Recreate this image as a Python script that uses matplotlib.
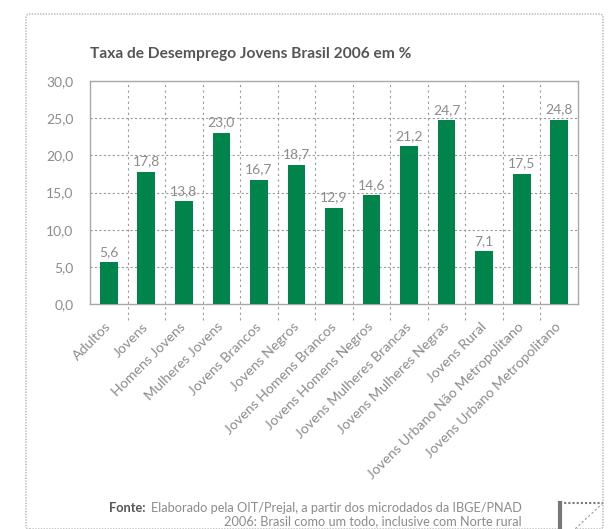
import matplotlib.pyplot as plt
from matplotlib.patches import FancyBboxPatch, Polygon
from matplotlib.lines import Line2D

categorias = ["Adultos", "Jovens", "Homens Jovens", "Mulheres Jovens", "Jovens Brancos",
              "Jovens Negros", "Jovens Homens Brancos", "Jovens Homens Negros",
              "Jovens Mulheres Brancas", "Jovens Mulheres Negras", "Jovens Rural",
              "Jovens Urbano Não Metropolitano", "Jovens Urbano Metropolitano"]
taxas = [5.6, 17.8, 13.8, 23.0, 16.7, 18.7, 12.9, 14.6, 21.2, 24.7, 7.1, 17.5, 24.8]
y_ticks = [0, 5, 10, 15, 20, 25, 30]

VERDE = "#00844b"
CINZA_TXT = "#8c8c8c"
CINZA_ESC = "#555555"
FONTE = ["Lato", "DejaVu Sans"]

plt.rcParams["font.family"] = FONTE

W, H = 614, 529
fig = plt.figure(figsize=(W / 100, H / 100), dpi=100)

# moldura pontilhada em volta
frame = FancyBboxPatch((26 / W, 0.0), (603 - 26) / W, (H - 14) / H,
                       boxstyle="round,pad=0,rounding_size=0.006",
                       transform=fig.transFigure, fill=False,
                       edgecolor="#b0b0b0", linestyle=(0, (1, 1)), linewidth=1.0)
fig.patches.append(frame)

# canto dobrado
curl = Polygon([(560 / W, (H - 503) / H), (603 / W, (H - 503) / H), (575 / W, 0.0), (560 / W, 0.0)],
               closed=True, transform=fig.transFigure, facecolor="white", edgecolor="none", zorder=5)
fig.patches.append(curl)
fig.lines.append(Line2D([560 / W, 603 / W], [(H - 503) / H] * 2, transform=fig.transFigure,
                        color="#777777", linestyle=(0, (1, 1)), linewidth=1.5, zorder=6))
fig.lines.append(Line2D([560 / W] * 2, [0, (H - 503) / H], transform=fig.transFigure,
                        color="#777777", linewidth=3, zorder=6))
fig.lines.append(Line2D([603 / W, 575 / W], [(H - 503) / H, 0], transform=fig.transFigure,
                        color="#999999", linestyle=(0, (2, 2)), linewidth=0.8, zorder=6))

ax = fig.add_axes([90 / W, (H - 304) / H, (578 - 90) / W, (304 - 81) / H])

x = list(range(len(categorias)))
ax.bar(x, taxas, width=0.47, color=VERDE, zorder=3)

for xi, v in zip(x, taxas):
    ax.text(xi, v + 0.6, f"{v:.1f}".replace(".", ","), ha="center", va="bottom",
            fontsize=10, color=CINZA_TXT, zorder=4)

ax.set_xlim(-0.5, len(categorias) - 0.5)
ax.set_ylim(0, 30)
ax.set_yticks(y_ticks)
ax.set_yticklabels([f"{t:.1f}".replace(".", ",") for t in y_ticks], fontsize=10, color=CINZA_TXT)
ax.tick_params(axis="y", length=0, pad=12)

# linhas de grade horizontais
for t in y_ticks[1:-1]:
    ax.axhline(t, color="#999999", linestyle=(0, (2, 2)), linewidth=0.8, zorder=1)

# linhas verticais entre categorias, passando abaixo do eixo
for b in range(1, len(categorias)):
    ax.plot([b - 0.5, b - 0.5], [-2.2, 30], color="#999999", linestyle=(0, (2, 3)),
            linewidth=0.8, zorder=1, clip_on=False)

ax.set_xticks(x)
ax.set_xticklabels(categorias, rotation=45, ha="right", va="center", rotation_mode="anchor",
                   fontsize=10.2, color=CINZA_TXT)
ax.tick_params(axis="x", length=0, pad=15)

for s in ax.spines.values():
    s.set_color("#a8a8a8")
    s.set_linewidth(1.0)

fig.text(90 / W, 1 - 54 / H, "Taxa de Desemprego Jovens Brasil 2006 em %", fontsize=11.2,
         fontweight="bold", color=CINZA_ESC, va="center", ha="left")

fig.text(522 / W, 1 - 508 / H, "Elaborado pela OIT/Prejal, a partir dos microdados da IBGE/PNAD",
         fontsize=9.2, color=CINZA_TXT, ha="right", va="center")
fig.text(522 / W, 1 - 521 / H, "2006: Brasil como um todo, inclusive com Norte rural",
         fontsize=9.2, color=CINZA_TXT, ha="right", va="center")
fig.text(146 / W, 1 - 508 / H, "Fonte:", fontsize=9.2, fontweight="bold", color=CINZA_ESC,
         ha="right", va="center")

fig.savefig("out.png", dpi=100)
